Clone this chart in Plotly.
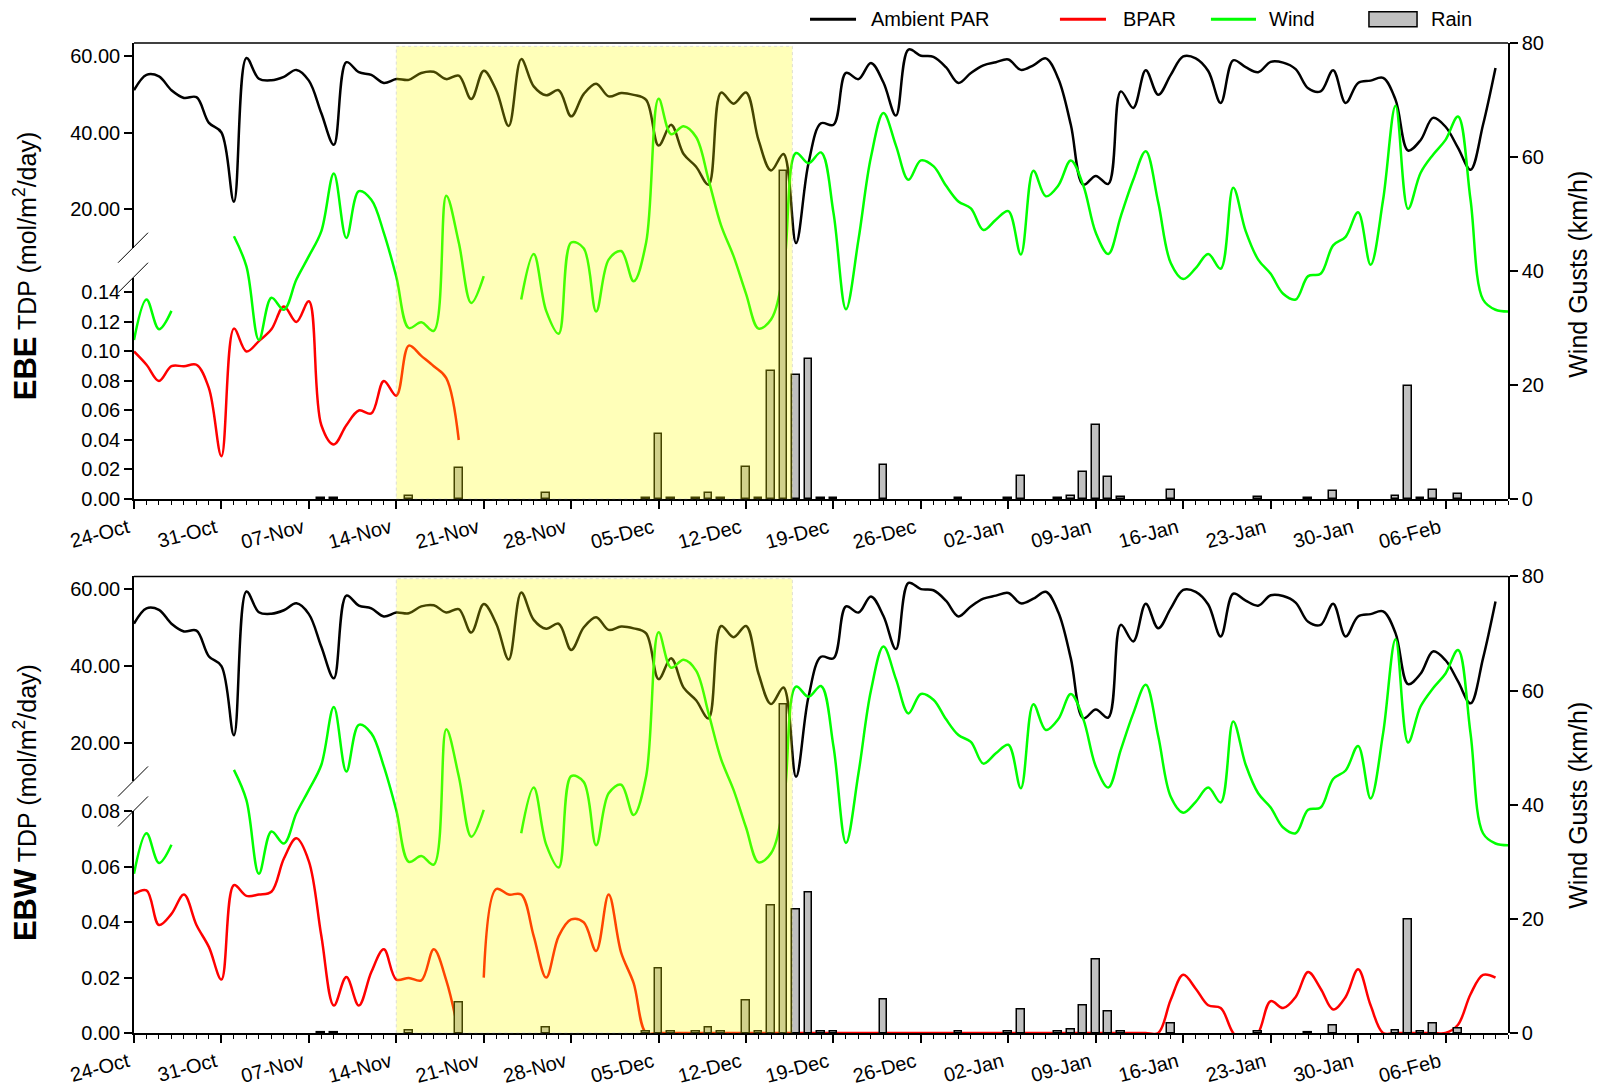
import pandas as pd
import plotly.graph_objects as go

START = pd.Timestamp("2011-10-24")
END = pd.Timestamp("2012-02-11")

# Ambient PAR (mol/m2/day), daily from 24-Oct
par = [51.0, 55.0, 54.6, 51.0, 49.0, 49.2, 42.5, 40.0, 22.0, 59.4,
       54.0, 53.6, 54.5, 56.3, 53.5, 45.0, 36.8, 58.3, 55.7, 55.0,
       52.9, 53.9, 53.7, 55.5, 55.8, 53.9, 54.8, 48.7, 56.1, 51.0,
       41.7, 59.1, 52.0, 49.7, 51.0, 44.2, 50.0, 52.7, 49.4, 50.3,
       49.8, 48.5, 36.6, 42.0, 34.4, 31.1, 26.4, 50.4, 47.5, 50.4,
       38.0, 30.1, 34.4, 11.2, 32.0, 42.4, 42.0, 55.5, 53.9, 58.1,
       53.0, 44.4, 61.6, 60.0, 59.7, 57.0, 52.9, 55.5, 57.5, 58.3,
       59.0, 56.3, 57.5, 59.3, 54.0, 42.0, 26.4, 28.7, 26.6, 50.7,
       46.4, 56.2, 49.8, 55.0, 59.8, 59.3, 56.0, 47.7, 58.8, 57.0,
       55.7, 58.4, 58.2, 56.5, 51.5, 50.7, 56.2, 47.7, 52.9, 53.5,
       54.2, 48.5, 35.3, 38.0, 43.8, 41.5, 36.0, 30.3, 42.0, 56.8]

# Wind gusts (km/h), daily from 24-Oct (None = no data)
wind = [27.9, 35.0, 29.8, 33.0, None, None, None, None, 46.1, 40.8,
        27.9, 35.3, 33.2, 38.5, 42.6, 47.0, 57.1, 45.8, 54.0, 52.5,
        46.7, 39.0, 30.0, 31.0, 29.5, 53.2, 45.0, 34.4, 39.1, None,
        None, 35.0, 43.0, 33.0, 29.0, 45.0, 44.0, 32.9, 42.0, 43.5,
        38.2, 45.0, 70.2, 64.0, 65.4, 63.5, 56.0, 48.0, 42.6, 36.0,
        29.9, 31.5, 40.0, 60.7, 58.9, 60.8, 50.2, 33.3, 45.5, 60.0,
        67.7, 62.0, 56.0, 59.4, 58.4, 55.0, 52.2, 51.0, 47.2, 49.0,
        50.5, 42.9, 57.6, 53.1, 55.0, 59.4, 55.0, 46.7, 43.0, 49.6,
        56.0, 61.0, 52.0, 41.4, 38.6, 40.5, 43.0, 40.4, 54.6, 47.0,
        42.0, 39.5, 36.0, 35.0, 39.1, 39.5, 44.5, 46.0, 50.3, 41.1,
        52.5, 69.0, 50.9, 57.2, 60.4, 63.0, 67.1, 52.5, 35.0, 33.2,
        32.9]

# BPAR at EBE, daily from 24-Oct
bpar_ebe = [0.100, 0.091, 0.080, 0.090, 0.090, 0.091, 0.075, 0.029, 0.1155, 0.100,
            0.107, 0.115, 0.1305, 0.120, 0.134, 0.050, 0.037, 0.050, 0.060, 0.058,
            0.080, 0.070, 0.104, 0.097, 0.090, 0.082, 0.040]

# BPAR at EBW, daily from 24-Oct
bpar_ebw = [0.0502, 0.0515, 0.039, 0.043, 0.050, 0.039, 0.031, 0.0193, 0.0534, 0.0495,
            0.050, 0.051, 0.063, 0.0703, 0.062, 0.035, 0.0099, 0.0202, 0.0099, 0.022,
            0.0302, 0.0193, 0.0199, 0.019, 0.0302, 0.019, 0.0, None, 0.020, 0.052,
            0.050, 0.050, 0.035, 0.020, 0.035, 0.041, 0.040, 0.0296, 0.050, 0.029,
            0.018, 0.0, 0.0, 0.0, 0.0, 0.0, 0.0, 0.0, 0.0, 0.0,
            0.0, 0.0, 0.0, 0.0, 0.0, 0.0, 0.0, 0.0, 0.0, 0.0,
            0.0, 0.0, 0.0, 0.0, 0.0, 0.0, 0.0, 0.0, 0.0, 0.0,
            0.0, 0.0, 0.0, 0.0, 0.0, 0.0, 0.0, 0.0, 0.0, 0.0,
            0.0, 0.0, 0.0, 0.012, 0.021, 0.016, 0.010, 0.009, 0.0, -0.004,
            0.0, 0.0115, 0.009, 0.013, 0.022, 0.016, 0.0085, 0.013, 0.023, 0.010,
            0.0, 0.0, 0.0, 0.0, 0.0, 0.0, 0.003, 0.014, 0.021, 0.020]

# Rain (mm)
rain_dates = ["2011-11-08", "2011-11-09", "2011-11-15", "2011-11-19", "2011-11-26",
              "2011-12-04", "2011-12-05", "2011-12-06", "2011-12-08", "2011-12-09",
              "2011-12-10", "2011-12-12", "2011-12-13", "2011-12-14", "2011-12-15",
              "2011-12-16", "2011-12-17", "2011-12-18", "2011-12-19", "2011-12-23",
              "2011-12-29", "2012-01-02", "2012-01-03", "2012-01-06", "2012-01-07",
              "2012-01-08", "2012-01-09", "2012-01-10", "2012-01-11", "2012-01-15",
              "2012-01-22", "2012-01-26", "2012-01-28", "2012-02-02", "2012-02-03",
              "2012-02-04", "2012-02-05", "2012-02-07"]
rain_mm = [0.15, 0.15, 0.5, 5.4, 1.05,
           0.2, 11.4, 0.2, 0.2, 1.0,
           0.2, 5.7, 0.2, 22.4, 57.6,
           21.7, 24.6, 0.2, 0.2, 5.9,
           0.2, 0.2, 4.1, 0.2, 0.6,
           4.8, 12.9, 3.8, 0.3, 1.6,
           0.3, 0.1, 1.4, 0.5, 19.9,
           0.2, 1.6, 0.8]

shade_start = "2011-11-14"
shade_end = "2011-12-15 17:00"

FONT = "Liberation Sans, Arial, sans-serif"


def days(n):
    return [START + pd.Timedelta(days=i) for i in range(n)]


# panel geometry (paper fractions)
panels = [
    dict(name="EBE", bpar=bpar_ebe, top=1.0, up_bot=0.7932, lo_top=0.7629, bot=0.5394,
         lo_range=[0, 0.15], lo_ticks=[0, 0.02, 0.04, 0.06, 0.08, 0.10, 0.12, 0.14],
         shade_top=0.9966, title_y=0.775, rtitle_y=0.766),
    dict(name="EBW", bpar=bpar_ebw, top=0.4612, up_bot=0.2541, lo_top=0.2238, bot=0.0,
         lo_range=[0, 0.08], lo_ticks=[0, 0.02, 0.04, 0.06, 0.08],
         shade_top=0.4589, title_y=0.2327, rtitle_y=0.2296),
]

fig = go.Figure()
layout = dict(
    width=1598, height=1085,
    margin=dict(l=134, r=90, t=43, b=52),
    paper_bgcolor="white", plot_bgcolor="rgba(0,0,0,0)",
    font=dict(family=FONT, size=20, color="black"),
    showlegend=False,
    shapes=[], annotations=[],
    bargap=0,
)

tickfont = dict(family=FONT, size=20, color="black")
axis_common = dict(showgrid=False, zeroline=False, showline=True, linecolor="black",
                   linewidth=1.5, ticks="outside", ticklen=8, tickwidth=1.5,
                   tickcolor="black", tickfont=tickfont, automargin=False)

for i, p in enumerate(panels):
    xa = "x" if i == 0 else "x2"
    xname = "xaxis" if i == 0 else "xaxis2"
    yu, yl, yr, yrain = [f"y{k}" if k > 1 else "y" for k in (1 + 4 * i, 2 + 4 * i, 3 + 4 * i, 4 + 4 * i)]
    ykey = lambda s: "yaxis" + s[1:]

    layout[xname] = dict(
        axis_common, domain=[0, 1], anchor=yl, type="date",
        range=[START, END], tick0=START, dtick=7 * 86400000,
        tickformat="%d-%b", tickangle=-15, ticklabelshift=-6,
        minor=dict(dtick=86400000, tick0=START, ticks="outside", ticklen=4,
                   tickwidth=1.2, tickcolor="black"),
    )
    layout[ykey(yu)] = dict(axis_common, domain=[p["up_bot"], p["top"]], anchor=xa,
                            range=[10, 63.3], tickvals=[20, 40, 60], tickformat=".2f")
    layout[ykey(yl)] = dict(axis_common, domain=[p["bot"], p["lo_top"]], anchor=xa,
                            range=p["lo_range"], tickvals=p["lo_ticks"], tickformat=".2f")
    layout[ykey(yr)] = dict(axis_common, domain=[p["bot"], p["top"]], anchor=xa,
                            side="right", range=[0, 80], tickvals=[0, 20, 40, 60, 80])
    layout[ykey(yrain)] = dict(overlaying=yr, anchor=xa, range=[0, 80], visible=False,
                               showgrid=False, zeroline=False, automargin=False)

    fig.add_trace(go.Scatter(x=days(len(par)), y=par, xaxis=xa, yaxis=yu, mode="lines",
                             line=dict(color="black", width=2.5, shape="spline"),
                             name="Ambient PAR"))
    fig.add_trace(go.Scatter(x=days(len(p["bpar"])), y=p["bpar"], xaxis=xa, yaxis=yl,
                             mode="lines", connectgaps=False,
                             line=dict(color="#FF0000", width=2.5, shape="spline"),
                             name="BPAR"))
    fig.add_trace(go.Scatter(x=days(len(wind)), y=wind, xaxis=xa, yaxis=yr, mode="lines",
                             connectgaps=False,
                             line=dict(color="#00FF00", width=2.5, shape="spline"),
                             name="Wind"))
    fig.add_trace(go.Bar(x=pd.to_datetime(rain_dates), y=rain_mm, xaxis=xa, yaxis=yrain,
                         width=0.62 * 86400000,
                         marker=dict(color="#C0C0C0", line=dict(color="black", width=1.5)),
                         name="Rain"))

    # top frame line
    layout["shapes"].append(dict(type="line", xref="paper", yref="paper", x0=0, x1=1,
                                 y0=p["top"], y1=p["top"],
                                 line=dict(color="black", width=1.5)))
    # axis break marks
    mid = (p["up_bot"] + p["lo_top"]) / 2
    half = (p["up_bot"] - p["lo_top"])
    for yc in (mid + half / 2, mid - half / 2):
        layout["shapes"].append(dict(type="line", xref="paper", yref="paper",
                                     x0=-0.0116, x1=0.0102,
                                     y0=yc - 0.01515, y1=yc + 0.01515,
                                     line=dict(color="black", width=1)))
    # shaded period
    layout["shapes"].append(dict(type="rect", xref=xa, yref="paper",
                                 x0=shade_start, x1=shade_end,
                                 y0=p["bot"], y1=p["shade_top"],
                                 fillcolor="#FFFF00", opacity=0.27, layer="above",
                                 line=dict(color="#888860", width=1, dash="dot")))
    # axis titles
    layout["annotations"].append(dict(
        xref="paper", yref="paper", x=-0.079, y=p["title_y"], textangle=-90,
        xanchor="center", yanchor="middle", showarrow=False,
        text=f"<span style='font-size:31px'><b>{p['name']}</b></span> TDP (mol/m<sup>2</sup>/day)",
        font=dict(family=FONT, size=25, color="black")))
    layout["annotations"].append(dict(
        xref="paper", yref="paper", x=1.051, y=p["rtitle_y"], textangle=-90,
        xanchor="center", yanchor="middle", showarrow=False,
        text="Wind Gusts (km/h)", font=dict(family=FONT, size=25, color="black")))

# manual legend at the top
leg_y = 1.0241
legend_items = [("Ambient PAR", "black", 0.492, 0.5255, 0.5349),
                ("BPAR", "#FF0000", 0.6739, 0.7074, 0.7183),
                ("Wind", "#00FF00", 0.7838, 0.8166, 0.8246)]
for label, col, x0, x1, xt in legend_items:
    layout["shapes"].append(dict(type="line", xref="paper", yref="paper", x0=x0, x1=x1,
                                 y0=leg_y, y1=leg_y, line=dict(color=col, width=3)))
    layout["annotations"].append(dict(xref="paper", yref="paper", x=xt, y=leg_y,
                                      xanchor="left", yanchor="middle", showarrow=False,
                                      text=label, font=dict(family=FONT, size=20)))
layout["shapes"].append(dict(type="rect", xref="paper", yref="paper", x0=0.8988, x1=0.9338,
                             y0=1.0165, y1=1.0316, fillcolor="#C0C0C0",
                             line=dict(color="black", width=1.5)))
layout["annotations"].append(dict(xref="paper", yref="paper", x=0.9425, y=leg_y,
                                  xanchor="left", yanchor="middle", showarrow=False,
                                  text="Rain", font=dict(family=FONT, size=20)))

fig.update_layout(**layout)
fig.write_html("out.html",
               config={"displayModeBar": False},
               post_script="document.body.style.margin='0';document.body.style.overflow='hidden';")
